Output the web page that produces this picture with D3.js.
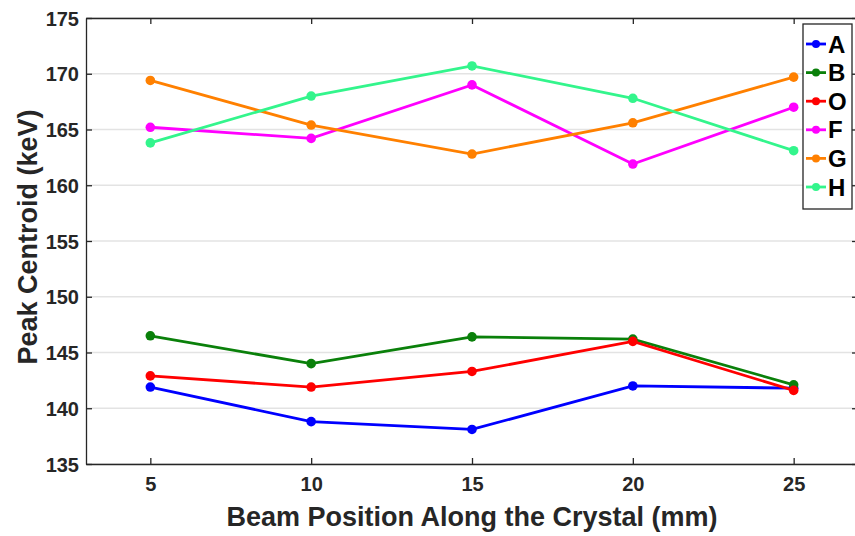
<!DOCTYPE html>
<html>
<head>
<meta charset="utf-8">
<script src="https://cdn.jsdelivr.net/npm/d3@7"></script>
<style>
  body { margin: 0; background: #fff; }
  svg text { font-family: "Liberation Sans", Arial, sans-serif; font-weight: bold; fill: #262626; }
</style>
</head>
<body>
<svg id="chart" width="855" height="536"></svg>
<script>
// beam positions (mm)
var positions = [5, 10, 15, 20, 25];
var seriesNames = ['A', 'B', 'O', 'F', 'G', 'H'];
var seriesColors = ['#0000ff', '#0a800a', '#ff0000', '#ff00ff', '#ff8000', '#33f58c'];

var valsA = [141.9, 138.8, 138.1, 142.0, 141.8];
var valsB = [146.5, 144.0, 146.4, 146.2, 142.1];
var valsO = [142.9, 141.9, 143.3, 146.0, 141.6];
var valsF = [165.2, 164.2, 169.0, 161.9, 167.0];
var valsG = [169.4, 165.4, 162.8, 165.6, 169.7];
var valsH = [163.8, 168.0, 170.7, 167.8, 163.1];

var xTicks = [5, 10, 15, 20, 25];
var yTicks = [135, 140, 145, 150, 155, 160, 165, 170, 175];

var allVals = [valsA, valsB, valsO, valsF, valsG, valsH];

var margin = {left: 86, top: 18, right: -3, bottom: 72};
var width = 855 - margin.left - margin.right,
    height = 536 - margin.top - margin.bottom;

var svg = d3.select('#chart');
var g = svg.append('g').attr('transform', 'translate(' + margin.left + ',' + margin.top + ')');

var x = d3.scaleLinear().domain([3, 27]).range([0, width]);
var y = d3.scaleLinear().domain([135, 175]).range([height, 0]);

// horizontal grid
g.append('g').selectAll('line').data(yTicks).enter().append('line')
  .attr('x1', 0).attr('x2', width)
  .attr('y1', function(d) { return y(d); }).attr('y2', function(d) { return y(d); })
  .attr('stroke', '#e3e3e3').attr('stroke-width', 1.3);

// axes, ticks inward
var axisColor = '#262626';
var axBottom = g.append('g').attr('transform', 'translate(0,' + height + ')')
  .call(d3.axisBottom(x).tickValues(xTicks).tickSize(-6).tickSizeOuter(0).tickPadding(13));
var axTop = g.append('g')
  .call(d3.axisTop(x).tickValues(xTicks).tickSize(-6).tickSizeOuter(0).tickFormat(''));
var axLeft = g.append('g')
  .call(d3.axisLeft(y).tickValues(yTicks).tickSize(-6).tickSizeOuter(0).tickPadding(7));
var axRight = g.append('g').attr('transform', 'translate(' + width + ',0)')
  .call(d3.axisRight(y).tickValues(yTicks).tickSize(-6).tickSizeOuter(0).tickFormat(''));

[axBottom, axTop, axLeft, axRight].forEach(function(a) {
  a.select('.domain').attr('stroke', axisColor).attr('stroke-width', 1.3);
  a.selectAll('.tick line').attr('stroke', axisColor).attr('stroke-width', 1.3);
  a.selectAll('text').style('font-size', '20px').attr('fill', axisColor)
    .style('font-family', '"Liberation Sans", Arial, sans-serif').style('font-weight', 'bold');
});
axBottom.selectAll('text').attr('dy', '0.71em');
axLeft.selectAll('text').attr('dy', '0.36em');

// series
var line = d3.line()
  .x(function(d, i) { return x(positions[i]); })
  .y(function(d) { return y(d); });

allVals.forEach(function(vals, k) {
  g.append('path').datum(vals)
    .attr('d', line).attr('fill', 'none')
    .attr('stroke', seriesColors[k]).attr('stroke-width', 2.8);
  g.append('g').selectAll('circle').data(vals).enter().append('circle')
    .attr('cx', function(d, i) { return x(positions[i]); })
    .attr('cy', function(d) { return y(d); })
    .attr('r', 4.8).attr('fill', seriesColors[k]);
});

// legend
var lg = svg.append('g').attr('transform', 'translate(803,24)');
lg.append('rect').attr('width', 49).attr('height', 185)
  .attr('fill', '#fff').attr('stroke', axisColor).attr('stroke-width', 1.3);
seriesNames.forEach(function(name, k) {
  var ly = 20 + k * 28.6;
  lg.append('line').attr('x1', 3).attr('x2', 23).attr('y1', ly).attr('y2', ly)
    .attr('stroke', seriesColors[k]).attr('stroke-width', 2.8);
  lg.append('circle').attr('cx', 13).attr('cy', ly).attr('r', 4).attr('fill', seriesColors[k]);
  lg.append('text').attr('x', 25).attr('y', ly).attr('dy', '0.36em')
    .style('font-size', '24px').style('fill', '#000').text(name);
});

// axis titles
svg.append('text').attr('x', 472).attr('y', 516).attr('dy', '0.36em')
  .attr('text-anchor', 'middle').style('font-size', '27px').text('Beam Position Along the Crystal (mm)');
svg.append('text').attr('transform', 'translate(27,237) rotate(-90)').attr('dy', '0.36em')
  .attr('text-anchor', 'middle').style('font-size', '27px').text('Peak Centroid (keV)');
</script>
</body>
</html>
